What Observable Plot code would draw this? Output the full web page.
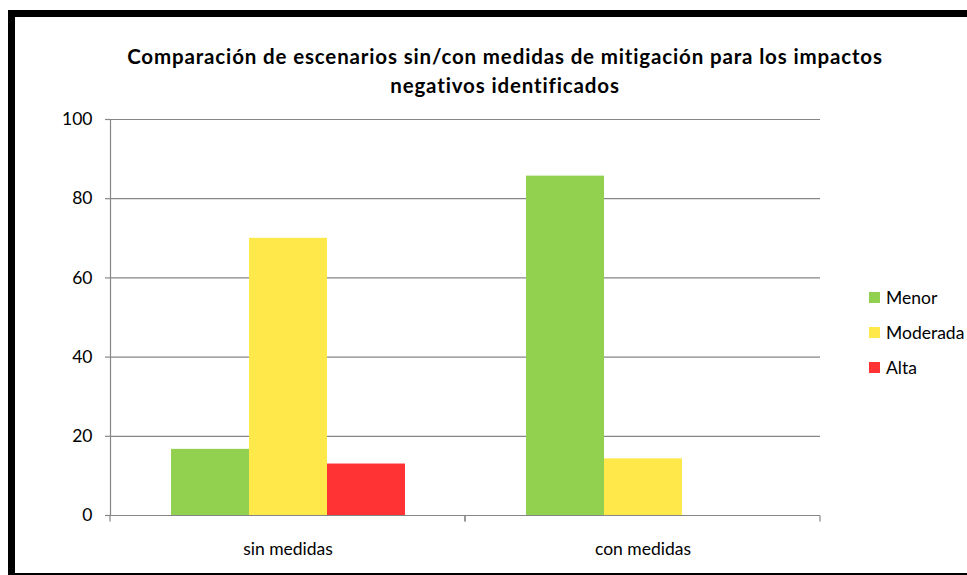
<!DOCTYPE html>
<html><head><meta charset="utf-8">
<script src="https://cdn.jsdelivr.net/npm/d3@7"></script>
<script src="https://cdn.jsdelivr.net/npm/@observablehq/plot@0.6"></script>
<style>
html,body{margin:0;padding:0;background:#fff;overflow:hidden;width:967px;height:575px;}
#frame{position:absolute;left:8px;top:10px;width:1000px;height:570px;border:7px solid #000;box-sizing:border-box;}
#chart{position:absolute;left:0;top:0;}
#title{position:absolute;left:0;width:1010px;top:42px;text-align:center;font-family:Lato,sans-serif;font-weight:bold;font-size:20.5px;letter-spacing:0.85px;line-height:29px;color:#000;}
#legend{position:absolute;left:869px;top:280px;font-family:Lato,sans-serif;font-size:17.5px;color:#000;}
.item{display:flex;align-items:center;height:35px;}
.sw{width:11px;height:11px;margin-right:6px;}
</style></head>
<body>
<div id="frame"></div>
<div id="chart"></div>
<div id="title">Comparación de escenarios sin/con medidas de mitigación para los impactos<br>negativos identificados</div>
<div id="legend"></div>
<script>
const categories = ["sin medidas", "con medidas"];
const series = ["Menor", "Moderada", "Alta"];
const sinMedidas = [16.7, 70, 13];
const conMedidas = [85.7, 14.3, 0];
const colors = ["#92D050", "#FFE84A", "#FF3333"];
const yTicks = [0, 20, 40, 60, 80, 100];

const values = [sinMedidas, conMedidas];
const data = categories.flatMap((c, i) => series.map((s, j) => ({category: c, series: s, value: values[i][j]})));
const gray = "#868686";

const chart = Plot.plot({
  width: 967, height: 575,
  marginLeft: 109, marginRight: 147, marginTop: 119, marginBottom: 60,
  style: {fontFamily: "Lato, sans-serif", fontSize: "17.5px", color: "#000", background: "transparent"},
  fx: {domain: categories, padding: 0, label: null},
  x: {domain: series, paddingInner: 0, paddingOuter: 0.75, axis: null},
  y: {domain: [0, 100], axis: null},
  color: {domain: series, range: colors},
  marks: [
    Plot.ruleY(yTicks, {stroke: gray, strokeWidth: 1.2}),
    Plot.barY(data, {fx: "category", x: "series", y: "value", fill: "series"}),
    Plot.frame({anchor: "left", facetAnchor: "left", stroke: gray, strokeWidth: 1.2}),
    Plot.axisY({ticks: yTicks, tickSize: 5, tickPadding: 13, label: null, stroke: gray, strokeWidth: 1.2, fill: "#000"}),
    Plot.axisFx({anchor: "bottom", tickSize: 0, tickPadding: 27, label: null, fill: "#000"}),
    Plot.ruleY([0], {stroke: gray, strokeWidth: 1.2, render: (index, scales, vals, dims, context, next) => {
      const g = next(index, scales, vals, dims, context);
      const y0 = scales.y(0);
      const xs = [dims.marginLeft, dims.width - dims.marginRight];
      for (const x of xs) {
        const l = context.document.createElementNS("http://www.w3.org/2000/svg", "line");
        l.setAttribute("x1", x); l.setAttribute("x2", x);
        l.setAttribute("y1", y0); l.setAttribute("y2", y0 + 6);
        l.setAttribute("stroke", gray); l.setAttribute("stroke-width", 1.2);
        g.appendChild(l);
      }
      return g;
    }})
  ]
});
document.getElementById("chart").appendChild(chart);

const legend = document.getElementById("legend");
series.forEach((s, i) => {
  const it = document.createElement("div"); it.className = "item";
  const sw = document.createElement("div"); sw.className = "sw"; sw.style.background = colors[i];
  const t = document.createElement("span"); t.textContent = s;
  it.appendChild(sw); it.appendChild(t); legend.appendChild(it);
});
</script>
</body></html>
